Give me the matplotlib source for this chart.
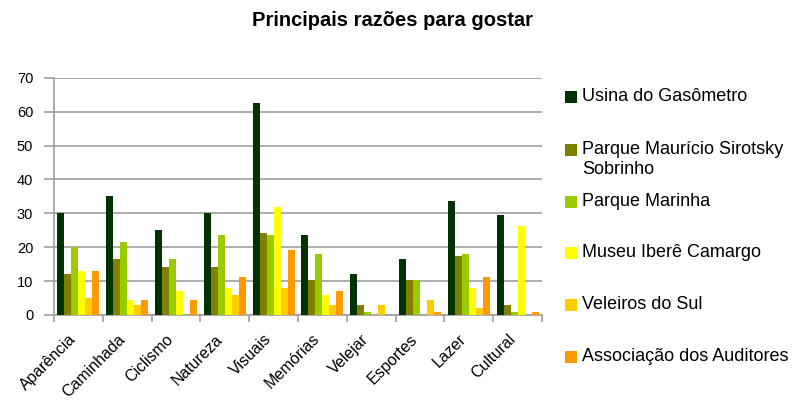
import matplotlib
matplotlib.use("Agg")
import matplotlib.pyplot as plt
import numpy as np
from matplotlib.patches import Rectangle
from matplotlib.transforms import ScaledTranslation

plt.rcParams['font.family'] = ['Liberation Sans', 'DejaVu Sans']

categories = ["Aparência", "Caminhada", "Ciclismo", "Natureza", "Visuais",
              "Memórias", "Velejar", "Esportes", "Lazer", "Cultural"]

series_names = ["Usina do Gasômetro", "Parque Maurício Sirotsky\nSobrinho",
                "Parque Marinha", "Museu Iberê Camargo", "Veleiros do Sul",
                "Associação dos Auditores"]

usina      = [30.0, 35.0, 25.0, 30.0, 62.5, 23.5, 12.2, 16.4, 33.5, 29.4]
sirotsky   = [12.2, 16.4, 14.3, 14.3, 24.3, 10.2, 3.0, 10.2, 17.3, 3.0]
marinha    = [20.1, 21.4, 16.4, 23.5, 23.5, 18.1, 1.0, 10.2, 18.1, 1.0]
ibere      = [13.1, 4.3, 7.2, 8.1, 32.0, 6.0, 0.0, 0.0, 8.1, 26.4]
veleiros   = [5.1, 3.0, 0.0, 6.0, 8.1, 3.0, 3.0, 4.3, 2.1, 0.0]
auditores  = [13.1, 4.3, 4.3, 11.3, 19.3, 7.2, 0.0, 1.0, 11.3, 1.0]

series = [usina, sirotsky, marinha, ibere, veleiros, auditores]
colors = ["#003300", "#808000", "#99cc00", "#ffff00", "#ffcc00", "#ff9900"]

yticks = [0, 10, 20, 30, 40, 50, 60, 70]

W, H = 794, 401
fig = plt.figure(figsize=(W / 100, H / 100), dpi=100)
ax = fig.add_axes([54 / W, 1 - 315 / H, (542 - 54) / W, (315 - 77.7) / H])

x = np.arange(len(categories))
n = len(series)
bw = 1 / 7
for i, (vals, c) in enumerate(zip(series, colors)):
    ax.bar(x + (i - (n - 1) / 2) * bw, vals, width=bw, color=c, linewidth=0, zorder=3)

ax.set_xlim(-0.5, len(categories) - 0.5)
ax.set_ylim(0, 70)
ax.set_yticks(yticks)
ax.set_yticklabels([str(v) for v in yticks], fontsize=10.5)
ax.yaxis.grid(True, color="#a0a0a0", linewidth=1.2, zorder=0)
ax.set_axisbelow(True)

ax.set_xticks(x)
ax.set_xticklabels(categories, rotation=45, ha='right', va='top',
                   rotation_mode='anchor', fontsize=11.5)
ax.tick_params(axis='x', length=0, pad=6)
offset = ScaledTranslation(-10 / 100, -8 / 100, fig.dpi_scale_trans)
for lab in ax.get_xticklabels():
    lab.set_transform(lab.get_transform() + offset)
ax.set_xticks(np.arange(-0.5, len(categories)), minor=True)
ax.tick_params(axis='x', which='minor', length=5, color="#a0a0a0", width=1.2)
ax.tick_params(axis='y', length=7, color="#a0a0a0", width=1.2, pad=8)

for s in ['top', 'right']:
    ax.spines[s].set_visible(False)
for s in ['left', 'bottom']:
    ax.spines[s].set_color("#a0a0a0")
    ax.spines[s].set_linewidth(1.2)

fig.text(392 / W, 1 - 20 / H, "Principais razões para gostar", ha='center', va='center',
         fontsize=14.5, fontweight='bold')

# legend
leg_y = [97, 150, 202, 253, 305, 357]
for name, c, yy in zip(series_names, colors, leg_y):
    fig.add_artist(Rectangle((565 / W, 1 - (yy + 6) / H), 12 / W, 12 / H,
                             transform=fig.transFigure, color=c, linewidth=0))
    fig.text(582 / W, 1 - (yy - 9) / H, name, ha='left', va='top', fontsize=13,
             linespacing=1.25)

fig.savefig("out.png", dpi=100)
